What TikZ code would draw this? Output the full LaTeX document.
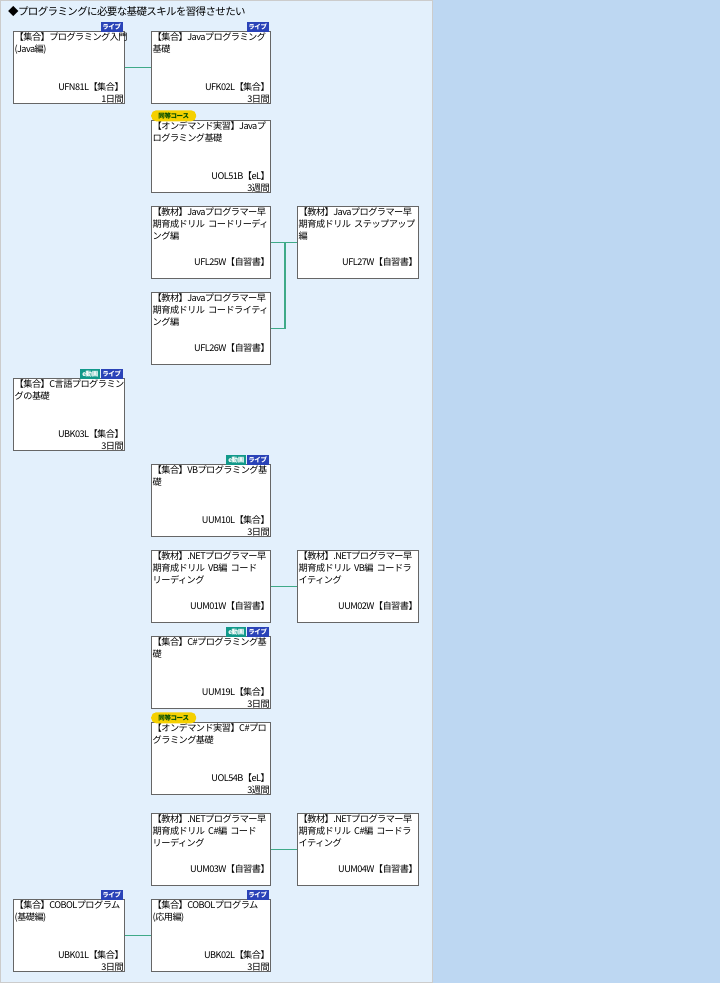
\documentclass[tikz,border=0pt]{standalone}
\usepackage{fontspec}
\setmainfont{Noto Sans CJK JP}[LetterSpace=-6]
\usetikzlibrary{positioning}
\definecolor{bgL}{HTML}{E3F0FC}
\definecolor{bgR}{HTML}{BDD7F2}
\definecolor{conn}{HTML}{3FAA88}
\definecolor{live}{HTML}{2A43B8}
\definecolor{edou}{HTML}{11998A}
\definecolor{eqv}{HTML}{F5D000}
\tikzset{
  cbox/.style={draw=black!60,fill=white,line width=0.9pt,anchor=north west,minimum height=72pt,inner sep=0pt},
  ttl/.style={anchor=north west,align=left,font=\fontsize{9.2}{12}\selectfont,inner sep=1.5pt},
  cod/.style={anchor=south east,font=\fontsize{9.2}{10}\selectfont,inner sep=1pt},
  lbadge/.style={fill=live,text=white,font=\bfseries\fontsize{6.5}{6}\selectfont,inner sep=1pt,minimum height=10pt,minimum width=22pt},
  ebadge/.style={fill=edou,text=white,font=\bfseries\fontsize{6.5}{6}\selectfont,inner sep=1pt,minimum height=10pt,minimum width=20pt},
  qbadge/.style={fill=eqv,text=black!70!green,font=\bfseries\fontsize{6.5}{6}\selectfont,rounded corners=5pt,inner sep=1pt,minimum height=11pt,minimum width=45pt},
  cline/.style={draw=conn,line width=1.6pt}
}
\newcommand{\cbx}[7]{% name x y width title code dur
  \node[cbox,minimum width=#4pt] (#1) at (#2,#3) {};
  \node[ttl,text width=#4pt] (#1t) at (#1.north west) {#5};
  \node[cod] (#1c) at ([yshift=11pt]#1.south east) {#6};
  \node[cod] (#1d) at ([yshift=-0.5pt]#1.south east) {#7};
}
\begin{document}
\begin{tikzpicture}[x=1pt,y=-1pt]
\useasboundingbox (0,0) rectangle (720,983);
\fill[bgR] (0,0) rectangle (720,983);
\fill[bgL] (0,0) rectangle (432,983);
\draw[black!20] (0.5,0.5) rectangle (432,982.5);
\node[anchor=west,font=\fontsize{10.5}{11}\selectfont,inner sep=0pt] (title) at (8,12) {◆プログラミングに必要な基礎スキルを習得させたい};

\cbx{a}{13}{31}{111}{【集合】プログラミング入門\\(Java編)}{UFN81L【集合】}{1日間}
\cbx{b}{151}{31}{119}{【集合】Javaプログラミング\\基礎}{UFK02L【集合】}{3日間}
\cbx{c}{151}{120}{119}{【オンデマンド実習】Javaプ\\ログラミング基礎}{UOL51B【eL】}{3週間}
\cbx{d}{151}{206}{119}{【教材】Javaプログラマー早\\期育成ドリル コードリーディ\\ング編}{UFL25W【自習書】}{}
\cbx{e}{297}{206}{121}{【教材】Javaプログラマー早\\期育成ドリル ステップアップ\\編}{UFL27W【自習書】}{}
\cbx{f}{151}{292}{119}{【教材】Javaプログラマー早\\期育成ドリル コードライティ\\ング編}{UFL26W【自習書】}{}
\cbx{g}{13}{378}{111}{【集合】C言語プログラミン\\グの基礎}{UBK03L【集合】}{3日間}
\cbx{h}{151}{464}{119}{【集合】VBプログラミング基\\礎}{UUM10L【集合】}{3日間}
\cbx{i}{151}{550}{119}{【教材】.NETプログラマー早\\期育成ドリル VB編 コード\\リーディング}{UUM01W【自習書】}{}
\cbx{j}{297}{550}{121}{【教材】.NETプログラマー早\\期育成ドリル VB編 コードラ\\イティング}{UUM02W【自習書】}{}
\cbx{k}{151}{636}{119}{【集合】C\#プログラミング基\\礎}{UUM19L【集合】}{3日間}
\cbx{l}{151}{722}{119}{【オンデマンド実習】C\#プロ\\グラミング基礎}{UOL54B【eL】}{3週間}
\cbx{m}{151}{813}{119}{【教材】.NETプログラマー早\\期育成ドリル C\#編 コード\\リーディング}{UUM03W【自習書】}{}
\cbx{n}{297}{813}{121}{【教材】.NETプログラマー早\\期育成ドリル C\#編 コードラ\\イティング}{UUM04W【自習書】}{}
\cbx{o}{13}{899}{111}{【集合】COBOLプログラム\\(基礎編)}{UBK01L【集合】}{3日間}
\cbx{p}{151}{899}{119}{【集合】COBOLプログラム\\(応用編)}{UBK02L【集合】}{3日間}

% badges
\foreach \n in {a,b,g,h,k,o,p} {\node[lbadge,anchor=south east] (\n L) at ([xshift=-2pt,yshift=-1pt]\n.north east) {ライブ};}
\foreach \n in {g,h,k} {\node[ebadge,anchor=south east] (\n E) at (\n L.south west) {e動画};}
\node[qbadge,anchor=south west] (cq) at ([yshift=-1.5pt]c.north west) {同等コース};
\node[qbadge,anchor=south west] (lq) at ([yshift=-1.5pt]l.north west) {同等コース};

% connectors
\draw[cline] (a.east) -- (b.west);
\draw[cline] (d.east) -- ++(14,0) |- (e.west);
\draw[cline] (f.east) -| ([xshift=14pt]d.east);
\draw[cline] (i.east) -- (j.west);
\draw[cline] (m.east) -- (n.west);
\draw[cline] (o.east) -- (p.west);
\end{tikzpicture}
\end{document}
